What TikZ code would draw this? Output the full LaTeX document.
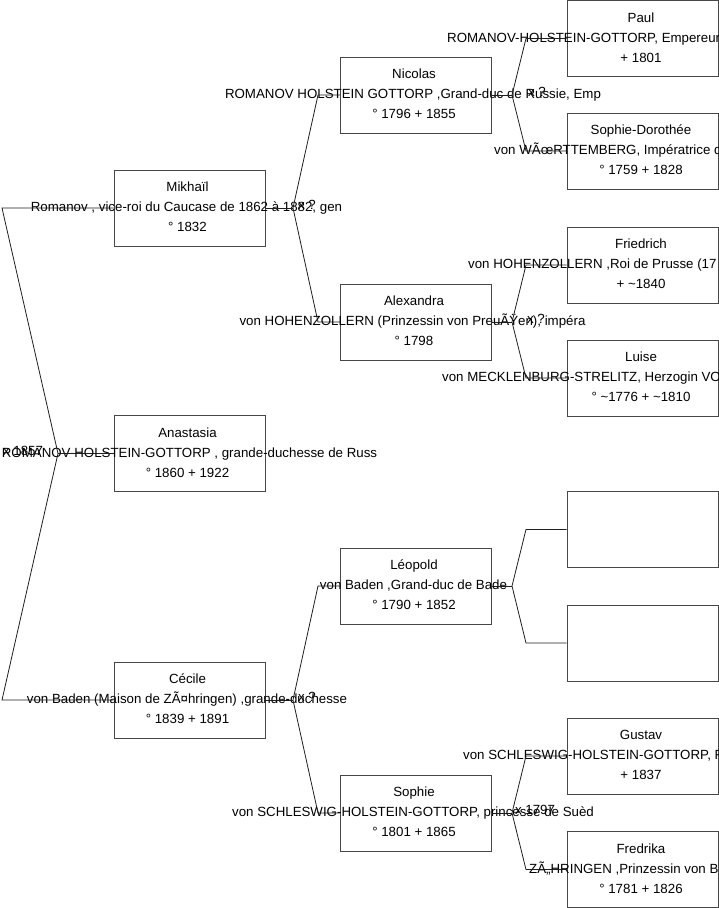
\documentclass[tikz,border=0pt]{standalone}
\usepackage{fontspec}
\setmainfont{Liberation Sans}
\definecolor{boxline}{gray}{0.28}
\definecolor{linkline}{gray}{0.12}
\newcommand\fs{\fontsize{13.3}{15}\selectfont}
\tikzset{
  pbox/.style={draw=boxline, line width=0.9pt, minimum width=151pt, minimum height=76pt, inner sep=0pt},
  ptext/.style={font=\fs, inner sep=0pt, text=black, anchor=base},
  pleft/.style={font=\fs, inner sep=0pt, text=black, anchor=base west},
  link/.style={draw=linkline, line width=0.8pt},
}
\begin{document}
\begin{tikzpicture}[x=1pt,y=-1pt]
\useasboundingbox (0,0) rectangle (719,908);
\clip (0,0) rectangle (719,908);
% ---------- boxes ----------
\node[pbox] (mik) at (189.5,208) {};
\node[pbox] (ana) at (189.5,453.5) {};
\node[pbox] (cec) at (189.5,700) {};
\node[pbox] (nic) at (416,95) {};
\node[pbox] (ale) at (416,322) {};
\node[pbox] (leo) at (416,586) {};
\node[pbox] (sop) at (416,813) {};
\node[pbox] (pau) at (642.5,38.5) {};
\node[pbox] (sod) at (642.5,151) {};
\node[pbox] (fri) at (642.5,265) {};
\node[pbox] (lui) at (642.5,378) {};
\node[pbox] (em1) at (642.5,529.5) {};
\node[pbox] (em2) at (642.5,643) {};
\node[pbox] (gus) at (642.5,756) {};
\node[pbox] (fre) at (642.5,869.5) {};
% ---------- texts, level 1 ----------
\node[ptext] (mik1) at (187.5,191.5) {Mikhaïl};
\node[ptext] (mik2) at (186.5,211.5) {Romanov , vice-roi du Caucase de 1862 à 1882, gen};
\node[ptext] (mik3) at (187.5,231.5) {° 1832};
\node[ptext] (ana1) at (187.5,437) {Anastasia};
\node[ptext] (ana2) at (189.5,457) {ROMANOV-HOLSTEIN-GOTTORP , grande-duchesse de Russ};
\node[ptext] (ana3) at (187.5,477) {° 1860 + 1922};
\node[ptext] (cec1) at (187.5,683.5) {Cécile};
\node[ptext] (cec2) at (187,703.5) {von Baden (Maison de ZÃ¤hringen) ,grande-duchesse};
\node[ptext] (cec3) at (187.5,723.5) {° 1839 + 1891};
% ---------- texts, level 2 ----------
\node[ptext] (nic1) at (414,78.5) {Nicolas};
\node[ptext] (nic2) at (413,98.5) {ROMANOV HOLSTEIN GOTTORP ,Grand-duc de Russie, Emp};
\node[ptext] (nic3) at (414,118.5) {° 1796 + 1855};
\node[ptext] (ale1) at (414,305.5) {Alexandra};
\node[ptext] (ale2) at (412.5,325.5) {von HOHENZOLLERN (Prinzessin von PreuÃŸen), impéra};
\node[ptext] (ale3) at (414,345.5) {° 1798};
\node[ptext] (leo1) at (414,569.5) {Léopold};
\node[ptext] (leo2) at (413.5,589.5) {von Baden ,Grand-duc de Bade};
\node[ptext] (leo3) at (414,609.5) {° 1790 + 1852};
\node[ptext] (sop1) at (414,796.5) {Sophie};
\node[ptext] (sop2) at (413,816.5) {von SCHLESWIG-HOLSTEIN-GOTTORP, princesse de Suèd};
\node[ptext] (sop3) at (414,836.5) {° 1801 + 1865};
% ---------- texts, level 3 ----------
\node[ptext] (pau1) at (641,22) {Paul};
\node[pleft] (pau2) at (447,42) {ROMANOV-HOLSTEIN-GOTTORP, Empereur};
\node[ptext] (pau3) at (641,62) {+ 1801};
\node[ptext] (sod1) at (641,134.5) {Sophie-Dorothée};
\node[pleft] (sod2) at (494,154.5) {von WÃœRTTEMBERG, Impératrice d};
\node[ptext] (sod3) at (641,174.5) {° 1759 + 1828};
\node[ptext] (fri1) at (641,248.5) {Friedrich};
\node[pleft] (fri2) at (468,268.5) {von HOHENZOLLERN ,Roi de Prusse (17};
\node[ptext] (fri3) at (641,288.5) {+ \textasciitilde1840};
\node[ptext] (lui1) at (641,361.5) {Luise};
\node[pleft] (lui2) at (442,381.5) {von MECKLENBURG-STRELITZ, Herzogin VO};
\node[ptext] (lui3) at (641,401.5) {° \textasciitilde1776 + \textasciitilde1810};
\node[ptext] (gus1) at (641,739.5) {Gustav};
\node[pleft] (gus2) at (463,759.5) {von SCHLESWIG-HOLSTEIN-GOTTORP, F};
\node[ptext] (gus3) at (641,779.5) {+ 1837};
\node[ptext] (fre1) at (641,853) {Fredrika};
\node[pleft] (fre2) at (529,873) {ZÃ„HRINGEN ,Prinzessin von B};
\node[ptext] (fre3) at (641,893) {° 1781 + 1826};
% ---------- marriage labels ----------
\node[ptext] (m0) at (23,455) {x 1857};
\node[ptext] (m1) at (307,209.5) {x ?};
\node[ptext] (m2) at (307,701.5) {x ?};
\node[ptext] (m3) at (537,96.5) {x ?};
\node[ptext] (m4) at (536,323.5) {x ?};
\node[ptext] (m6) at (535,814.5) {x 1797};
% ---------- fork points ----------
\coordinate (rv) at (58,453.5);
\coordinate (rt) at (2,208);
\coordinate (rb) at (2,700);
\coordinate (v1) at (293,208);  \coordinate (v1t) at (318,95);  \coordinate (v1b) at (318,322);
\coordinate (v2) at (293,700);  \coordinate (v2t) at (318,586); \coordinate (v2b) at (318,813);
\coordinate (v3) at (512,95);   \coordinate (v3t) at (526,38.5); \coordinate (v3b) at (526,151);
\coordinate (v4) at (512,322);  \coordinate (v4t) at (526,265); \coordinate (v4b) at (526,378);
\coordinate (v5) at (512,586);  \coordinate (v5t) at (526,529.5); \coordinate (v5b) at (526,643);
\coordinate (v6) at (512,813);  \coordinate (v6t) at (526,756); \coordinate (v6b) at (526,869.5);
% ---------- connectors ----------
\draw[link] (ana.west) -- (rv);
\draw[link] (mik.west) -- (rt) -- (rv) -- (rb) -- (cec.west);
\draw[link] (mik.east) -- (v1);
\draw[link] (nic.west) -- (v1t) -- (v1) -- (v1b) -- (ale.west);
\draw[link] (cec.east) -- (v2);
\draw[link] (leo.west) -- (v2t) -- (v2) -- (v2b) -- (sop.west);
\draw[link] (nic.east) -- (v3);
\draw[link] (pau.west) -- (v3t) -- (v3) -- (v3b) -- (sod.west);
\draw[link] (ale.east) -- (v4);
\draw[link] (fri.west) -- (v4t) -- (v4) -- (v4b) -- (lui.west);
\draw[link] (leo.east) -- (v5);
\draw[link] (em1.west) -- (v5t) -- (v5) -- (v5b) -- (em2.west);
\draw[link] (sop.east) -- (v6);
\draw[link] (gus.west) -- (v6t) -- (v6) -- (v6b) -- (fre.west);
\end{tikzpicture}
\end{document}
